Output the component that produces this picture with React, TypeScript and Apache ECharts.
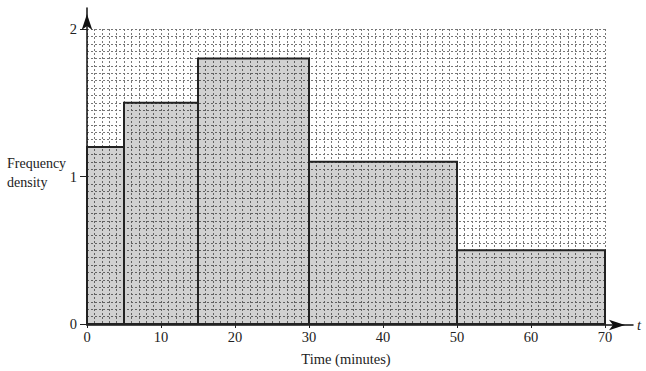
import React, { useEffect, useRef } from "react";
import * as echarts from "echarts";

const boundaries = [0, 5, 15, 30, 50, 70];
const densities = [1.2, 1.5, 1.8, 1.1, 0.5];
const xTickLabels = [0, 10, 20, 30, 40, 50, 60, 70];
const yTickLabels = [0, 1, 2];

const FONT = "Liberation Serif";

export default function App() {
  const ref = useRef<HTMLDivElement>(null);
  useEffect(() => {
    if (!ref.current) return;
    const chart = echarts.init(ref.current, undefined, { renderer: "svg" });
    const barData = densities.map((d, i) => [boundaries[i], boundaries[i + 1], d]);
    const gridStyle = { color: "#777", width: 1, type: [2, 2] as any };
    const option: any = {
      animation: false,
      backgroundColor: "#fff",
      textStyle: { fontFamily: FONT },
      grid: [
        { left: 87, right: 41, top: 29, bottom: 46 },
        { left: 87, right: 13, top: 8, bottom: 46 },
      ],
      xAxis: [
        {
          type: "value",
          gridIndex: 0,
          min: 0,
          max: 70,
          interval: 10,
          name: "Time (minutes)",
          nameLocation: "middle",
          nameGap: 27,
          nameTextStyle: { fontFamily: FONT, fontSize: 14.5, color: "#222" },
          axisLine: { show: false },
          axisTick: { show: true, length: 4, lineStyle: { color: "#222", width: 1 } },
          axisLabel: {
            show: true,
            margin: 5,
            fontFamily: FONT,
            fontSize: 14.5,
            color: "#222",
            formatter: (v: number) => (xTickLabels.includes(v) ? String(v) : ""),
          },
          splitLine: { show: true, lineStyle: gridStyle },
          minorTick: { show: false, splitNumber: 10 },
          minorSplitLine: { show: true, lineStyle: gridStyle },
        },
        {
          type: "value",
          gridIndex: 1,
          min: 0,
          max: 73.64,
          name: "t",
          nameLocation: "end",
          nameGap: 4,
          nameTextStyle: { fontFamily: FONT, fontSize: 14.5, fontStyle: "italic", color: "#222" },
          axisLine: {
            show: true,
            symbol: ["none", "arrow"],
            symbolSize: [8, 16],
            symbolOffset: [0, -8],
            lineStyle: { color: "#111", width: 1.5 },
          },
          axisTick: { show: false },
          axisLabel: { show: false },
          splitLine: { show: false },
        },
      ],
      yAxis: [
        {
          type: "value",
          gridIndex: 0,
          min: 0,
          max: 2,
          interval: 1,
          axisLine: { show: false },
          axisTick: { show: true, length: 7, lineStyle: { color: "#222", width: 1 } },
          axisLabel: {
            show: true,
            margin: 10,
            fontFamily: FONT,
            fontSize: 14.5,
            color: "#222",
            formatter: (v: number) => (yTickLabels.includes(v) ? String(v) : ""),
          },
          splitLine: { show: true, lineStyle: gridStyle },
          minorTick: { show: false, splitNumber: 20 },
          minorSplitLine: { show: true, lineStyle: gridStyle },
        },
        {
          type: "value",
          gridIndex: 1,
          min: 0,
          max: 2.142,
          axisLine: {
            show: true,
            symbol: ["none", "arrow"],
            symbolSize: [8, 16],
            symbolOffset: [0, -6],
            lineStyle: { color: "#111", width: 1.5 },
          },
          axisTick: { show: false },
          axisLabel: { show: false },
          splitLine: { show: false },
        },
      ],
      graphic: [
        {
          type: "text",
          left: 7,
          top: 154,
          style: {
            text: "Frequency\ndensity",
            fontFamily: FONT,
            fontSize: 14,
            lineHeight: 19,
            fill: "#222",
          },
        },
      ],
      series: [
        {
          type: "custom",
          xAxisIndex: 0,
          yAxisIndex: 0,
          data: barData,
          encode: { x: [0, 1], y: 2 },
          renderItem: (params: any, api: any) => {
            const x0 = api.value(0);
            const x1 = api.value(1);
            const h = api.value(2);
            const p0 = api.coord([x0, h]);
            const p1 = api.coord([x1, 0]);
            return {
              type: "rect",
              shape: { x: p0[0], y: p0[1], width: p1[0] - p0[0], height: p1[1] - p0[1] },
              style: { fill: "rgba(0,0,0,0.18)", stroke: "#222", lineWidth: 2 },
            };
          },
        },
      ],
    };
    chart.setOption(option);
    return () => chart.dispose();
  }, []);
  return (
    <div
      ref={ref}
      style={{ position: "fixed", left: 0, top: 0, width: 646, height: 371, background: "#fff" }}
    />
  );
}
